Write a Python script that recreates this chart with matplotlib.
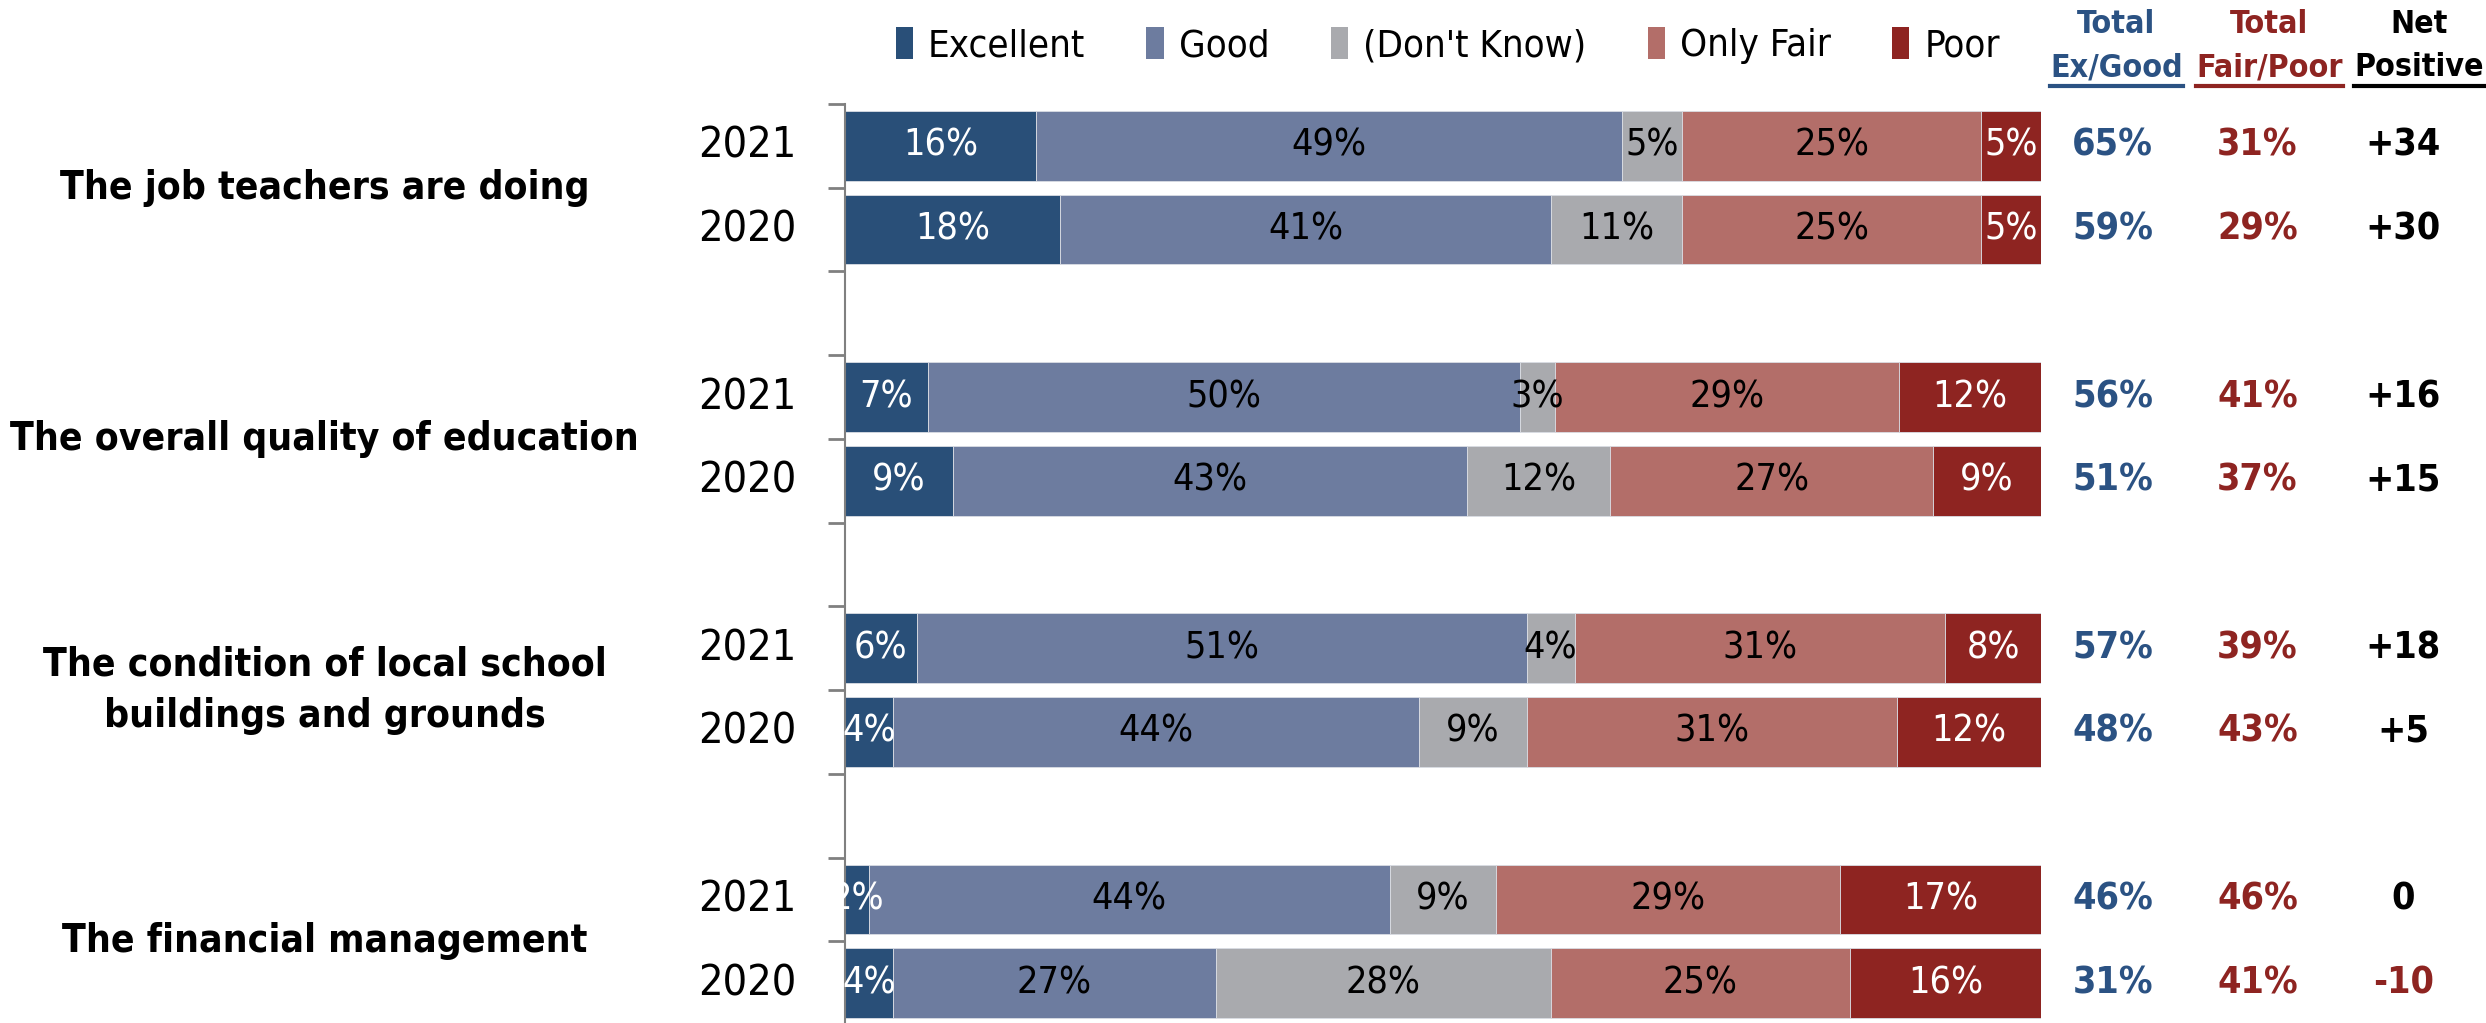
import numpy as np
import matplotlib
matplotlib.use("Agg")
import matplotlib.pyplot as plt
from matplotlib.patches import Patch
from matplotlib.lines import Line2D

plt.rcParams['font.family'] = ['DejaVu Sans']
plt.rcParams['font.stretch'] = 'condensed'

# ---- data ----
items = ["The job teachers are doing",
         "The overall quality of education",
         "The condition of local school\nbuildings and grounds",
         "The financial management"]
years = ["2021", "2020"]
series = ["Excellent", "Good", "(Don't Know)", "Only Fair", "Poor"]

# rows: item0 2021, item0 2020, item1 2021, ...
excellent = [16, 18, 7, 9, 6, 4, 2, 4]
good      = [49, 41, 50, 43, 51, 44, 44, 27]
dont_know = [5, 11, 3, 12, 4, 9, 9, 28]
only_fair = [25, 25, 29, 27, 31, 31, 29, 25]
poor      = [5, 5, 12, 9, 8, 12, 17, 16]

total_exgood = [65, 59, 56, 51, 57, 48, 46, 31]
total_fairpoor = [31, 29, 41, 37, 39, 43, 46, 41]
net_positive = ["+34", "+30", "+16", "+15", "+18", "+5", "0", "-10"]

colors = ["#294F78", "#6D7C9F", "#A9AAAE", "#B36E69", "#8E2421"]
label_colors = ["white", "black", "black", "black", "white"]
BLUE = "#2B5283"
RED = "#8E2421"

W, H = 2486, 1023
fig = plt.figure(figsize=(W / 100, H / 100), dpi=100)
ax = fig.add_axes([845 / W, -2 / H, 1196 / W, 921 / H])

vals = np.array([excellent, good, dont_know, only_fair, poor], dtype=float)
norm = vals / vals.sum(axis=0) * 100

ypos = []
for g in range(len(items)):
    ypos += [3 * g, 3 * g + 1]
ypos = np.array(ypos)

left = np.zeros(len(ypos))
for i in range(len(series)):
    ax.barh(ypos, norm[i], left=left, height=0.83, color=colors[i],
            edgecolor="#DADDE4", linewidth=0.6, label=series[i])
    for y, l, w, v in zip(ypos, left, norm[i], vals[i]):
        ax.text(l + w / 2, y, f"{int(v)}%", ha="center", va="center",
                fontsize=27, color=label_colors[i])
    left += norm[i]

ax.set_xlim(0, 100)
ax.set_ylim(10.5, -0.5)
ax.set_xticks([])
ax.set_yticks(np.arange(-0.5, 11, 1))
ax.set_yticklabels([])
ax.tick_params(axis="y", direction="out", length=12, width=2, color="#808080")
for s in ["top", "right", "bottom"]:
    ax.spines[s].set_visible(False)
ax.spines["left"].set_color("#808080")
ax.spines["left"].set_linewidth(1.5)

# year labels and item labels
for k, y in enumerate(ypos):
    ax.text(-4.1, y, years[k % 2], ha="right", va="center", fontsize=31,
            clip_on=False)
for g, name in enumerate(items):
    ax.text(-43.5, 3 * g + 0.5, name, ha="center", va="center", fontsize=28,
            fontweight="bold", linespacing=1.45, clip_on=False)

# right-hand summary columns
col_x = [106.0, 118.1, 130.3]
for y, a, b, n in zip(ypos, total_exgood, total_fairpoor, net_positive):
    ax.text(col_x[0], y, f"{a}%", ha="center", va="center", fontsize=27,
            fontweight="bold", color=BLUE, clip_on=False)
    ax.text(col_x[1], y, f"{b}%", ha="center", va="center", fontsize=27,
            fontweight="bold", color=RED, clip_on=False)
    ax.text(col_x[2], y, n, ha="center", va="center", fontsize=27,
            fontweight="bold", color=RED if n.startswith("-") else "black",
            clip_on=False)

head_x = [106.3, 119.1, 131.6]
headers = [("Total", "Ex/Good", BLUE), ("Total", "Fair/Poor", RED),
           ("Net", "Positive", "black")]
under = []
for x, (t1, t2, c) in zip(head_x, headers):
    ax.text(x, -1.45, t1, ha="center", va="center", fontsize=23,
            fontweight="bold", color=c, clip_on=False)
    t = ax.text(x, -0.93, t2, ha="center", va="center", fontsize=23,
                fontweight="bold", color=c, clip_on=False)
    under.append((t, c))

handles = [Patch(facecolor=c, edgecolor="none") for c in colors]
ax.legend(handles, series, ncol=5, loc="center", bbox_to_anchor=(0.504, 1.063),
          frameon=False, fontsize=27.5, handlelength=0.45, handleheight=0.9,
          handletextpad=0.4, columnspacing=1.6)

fig.canvas.draw()
r = fig.canvas.get_renderer()
for t, c in under:
    bb = t.get_window_extent(r)
    fig.add_artist(Line2D([bb.x0 / W, bb.x1 / W], [(bb.y0 - 3) / H] * 2,
                          color=c, linewidth=3, transform=fig.transFigure))

fig.savefig("out.png", dpi=100)
